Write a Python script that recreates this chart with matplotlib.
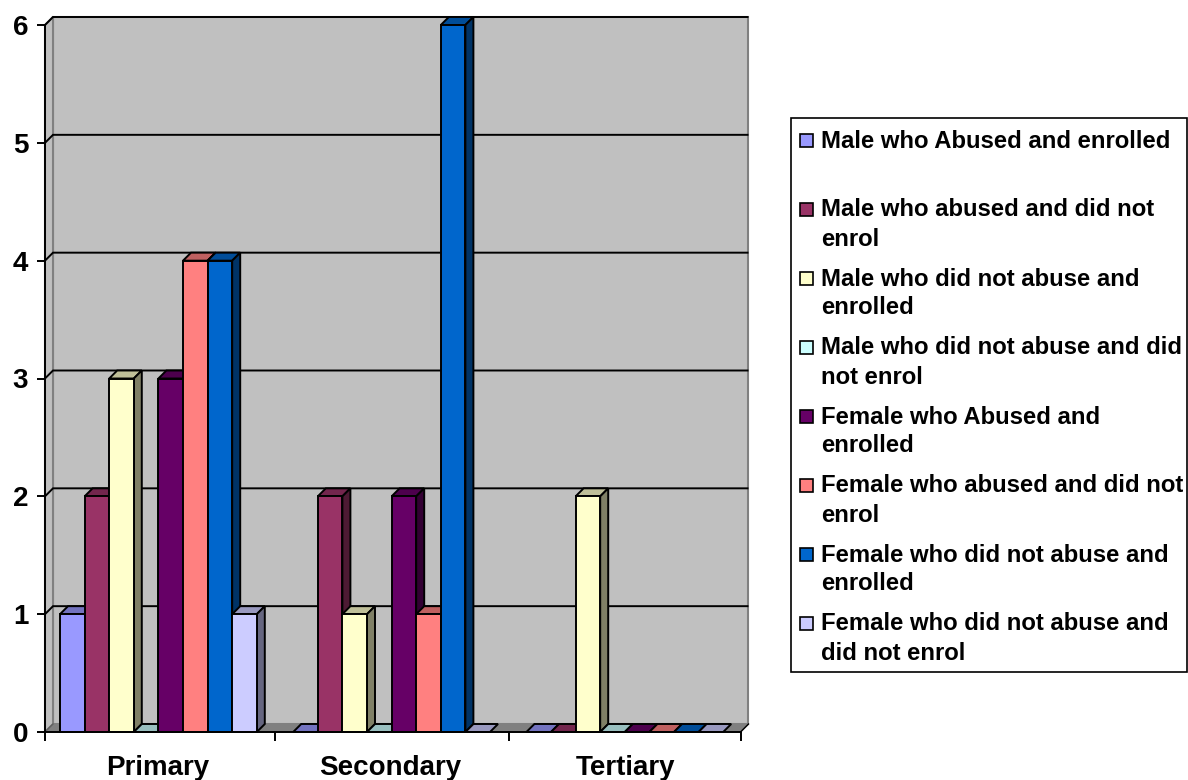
import matplotlib
matplotlib.use("Agg")
import matplotlib.pyplot as plt
from matplotlib.patches import Polygon, Rectangle
from matplotlib.colors import to_rgb

categories = ["Primary", "Secondary", "Tertiary"]
series_names = [
    "Male who Abused and enrolled",
    "Male who abused and did not\nenrol",
    "Male who did not abuse and\nenrolled",
    "Male who did not abuse and did\nnot enrol",
    "Female who Abused and\nenrolled",
    "Female who abused and did not\nenrol",
    "Female who did not abuse and\nenrolled",
    "Female who did not abuse and\ndid not enrol",
]
male_abused_enrolled = [1, 0, 0]
male_abused_not_enrolled = [2, 2, 0]
male_not_abused_enrolled = [3, 1, 2]
male_not_abused_not_enrolled = [0, 0, 0]
female_abused_enrolled = [3, 2, 0]
female_abused_not_enrolled = [4, 1, 0]
female_not_abused_enrolled = [4, 6, 0]
female_not_abused_not_enrolled = [1, 0, 0]
series_values = [
    male_abused_enrolled, male_abused_not_enrolled, male_not_abused_enrolled,
    male_not_abused_not_enrolled, female_abused_enrolled, female_abused_not_enrolled,
    female_not_abused_enrolled, female_not_abused_not_enrolled,
]
colors = ["#9999FF", "#993366", "#FFFFCC", "#CCFFFF", "#660066", "#FF8080", "#0066CC", "#CCCCFF"]
yticks = [0, 1, 2, 3, 4, 5, 6]

W, H = 1188, 780
plt.rcParams["font.family"] = ["Liberation Sans", "DejaVu Sans"]
plt.rcParams["font.weight"] = "bold"
fig = plt.figure(figsize=(W / 100, H / 100), dpi=100, facecolor="white")

# plot area in pixels
L, R, T, B = 45.0, 740.5, 25.0, 732.0
ax = fig.add_axes([L / W, 1 - B / H, (R - L) / W, (B - T) / H])
ax.set_xlim(0, 3)
ax.set_ylim(0, 6)
ax.patch.set_visible(False)
for s in ("top", "right"):
    ax.spines[s].set_visible(False)
for s in ("left", "bottom"):
    ax.spines[s].set_linewidth(1.4)
    ax.spines[s].set_zorder(50)

ux = 3 / (R - L)          # data units per pixel
uy = 6 / (B - T)
dx, dy = 8 * ux, 8 * uy   # 3-D depth
lw = 1.4
grey = "#808080"

def poly(pts, fc, ec="black", z=1, lw_=lw):
    ax.add_patch(Polygon(pts, closed=True, facecolor=fc, edgecolor=ec, linewidth=lw_,
                         zorder=z, clip_on=False, joinstyle="miter"))

# walls and floor
poly([(dx, dy), (3 + dx, dy), (3 + dx, 6 + dy), (dx, 6 + dy)], "#C0C0C0", grey, 1, 1.5)
poly([(0, 0), (dx, dy), (dx, 6 + dy), (0, 6)], "#C0C0C0", grey, 1, 1.5)
poly([(0, 0), (3, 0), (3 + dx, dy), (dx, dy)], grey, grey, 1, 1.0)

# gridlines
for v in yticks[1:]:
    ax.plot([0, dx, 3 + dx - ux], [v, v + dy, v + dy], color="black", lw=1.4, zorder=2,
            clip_on=False, solid_joinstyle="miter")
ax.plot([3, 3 + dx], [0, dy], color="black", lw=1.0, zorder=2, clip_on=False)
ax.plot([0, dx], [0, dy], color="#606060", lw=1.0, zorder=2, clip_on=False)

# bars
x0 = 15.0 * ux
bw = 24.6 * ux
step = 233.2 * ux
z = 3
for c in range(len(categories)):
    for i, (vals, col) in enumerate(zip(series_values, colors)):
        x = c * step + x0 + i * bw
        v = vals[c]
        rgb = to_rgb(col)
        dark = tuple(k * 0.75 for k in rgb)
        darker = tuple(k * 0.5 for k in rgb)
        poly([(x, v), (x + bw, v), (x + bw + dx, v + dy), (x + dx, v + dy)], dark, "black", z)
        if v > 0:
            poly([(x + bw, 0), (x + bw + dx, dy), (x + bw + dx, v + dy), (x + bw, v)], darker, "black", z)
            ax.bar(x, v, width=bw, align="edge", color=col, edgecolor="black",
                   linewidth=lw, zorder=z + 0.5, clip_on=False)
        z += 1

# axes ticks and labels
ax.set_yticks(yticks)
ax.set_xticks([0, 0.992, 2, 3])
ax.set_xticklabels([])
ax.set_xticks([0.485, 1.49, 2.505], minor=True)
ax.set_xticklabels(categories, minor=True, fontsize=20, fontweight="bold")
ax.tick_params(axis="x", which="major", length=6.5, width=1.4, direction="out")
ax.tick_params(axis="x", which="minor", length=0, pad=16.5)
ax.tick_params(axis="y", length=6, width=1.4, direction="out", pad=6, labelsize=20)

# legend box, laid out in pixels
lg = fig.add_axes([0, 0, 1, 1])
lg.set_xlim(0, W)
lg.set_ylim(H, 0)
lg.axis("off")
lg.patch.set_visible(False)
lg.add_patch(Rectangle((791, 118), 396, 554, facecolor="white", edgecolor="black", linewidth=1.2))
for i, (name, col) in enumerate(zip(series_names, colors)):
    y = 140 + 69 * i
    lg.add_patch(Rectangle((800, y - 6.5), 13, 13, facecolor=col, edgecolor="black", linewidth=1.2))
    lines = name.split("\n")
    lg.text(821, y + 1, lines[0], fontsize=17.2, fontweight="bold", va="center", ha="left")
    if len(lines) > 1:
        lg.text(821, y + 30, lines[1], fontsize=17.2, fontweight="bold", va="center", ha="left")

fig.savefig("out.png", dpi=100, facecolor="white")
